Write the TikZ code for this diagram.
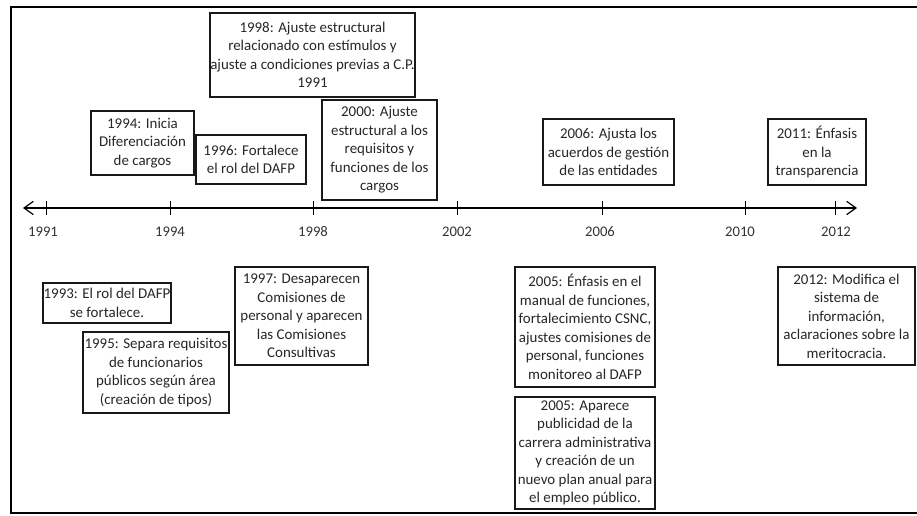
\documentclass[tikz,border=0pt]{standalone}
\usepackage{fontspec}
\setmainfont{Carlito}
\usetikzlibrary{arrows.meta}
\newcommand{\hito}[3]{\draw (#1,201) --++ (0,14); \node[anio] (a#2) at (#1+#3,232) {#2};}
\newcommand{\caja}[6]{\node[evento, minimum width={#4*0.75pt}, minimum height={#5*0.75pt}] (#1) at (#2,#3) {#6};}

\begin{document}
\begin{tikzpicture}[x=0.75pt,y=-0.75pt,
	evento/.style={draw=black!90, line width=1.2pt, align=center, inner sep=0pt, text=black!85, font=\fontsize{11.2}{13.9}\selectfont},
	anio/.style={text=black!80, font=\fontsize{11}{13}\selectfont}]
	\useasboundingbox (0,0) rectangle (917,516);
	\draw[line width=1.5pt] (917,7) -- (11,7) -- (11,513) -- (917,513);
	% eje
	\coordinate (izq) at (23,208);
	\coordinate (der) at (857,208);
	\draw[line width=0.9pt, {Straight Barb[length=7pt,width=10pt]}-{Straight Barb[length=7pt,width=10pt]}] (izq) -- (der);
	\hito{46}{1991}{-3}
	\hito{170}{1994}{0}
	\hito{313}{1998}{0}
	\hito{457}{2002}{0}
	\hito{602}{2006}{-2}
	\hito{745}{2010}{-5}
	\hito{835}{2012}{1}
	% arriba
	\caja{c1998}{312.5}{55}{205}{84}{1998: Ajuste estructural\\ relacionado con estímulos y\\ ajuste a condiciones previas a C.P.\\ 1991}
	\caja{c1994}{142.5}{143}{103}{64}{1994: Inicia\\ Diferenciación\\ de cargos}
	\caja{c1996}{251}{159.5}{110}{49}{1996: Fortalece\\ el rol del DAFP}
	\caja{c2000}{379.5}{150}{115}{100}{2000: Ajuste\\ estructural a los\\ requisitos y\\ funciones de los\\ cargos}
	\caja{c2006}{608.5}{152}{131}{66}{2006: Ajusta los\\ acuerdos de gestión\\ de las entidades}
	\caja{c2011}{817}{152}{98}{66}{2011: Énfasis\\ en la\\ transparencia}
	% abajo
	\caja{c1993}{107}{303}{128}{40}{1993: El rol del DAFP\\ se fortalece.}
	\caja{c1995}{156}{372.5}{146}{81}{1995: Separa requisitos\\ de funcionarios\\ públicos según área\\ (creación de tipos)}
	\caja{c1997}{301.5}{316}{133}{98}{1997: Desaparecen\\ Comisiones de\\ personal y aparecen\\ las Comisiones\\ Consultivas}
	\caja{c2005a}{585}{327}{140}{120}{2005: Énfasis en el\\ manual de funciones,\\ fortalecimiento CSNC,\\ ajustes comisiones de\\ personal, funciones\\ monitoreo al DAFP}
	\caja{c2005b}{585}{453}{140}{112}{2005: Aparece\\ publicidad de la\\ carrera administrativa\\ y creación de un\\ nuevo plan anual para\\ el empleo público.}
	\caja{c2012}{846.5}{316}{137}{98}{2012: Modifica el\\ sistema de\\ información,\\ aclaraciones sobre la\\ meritocracia.}
\end{tikzpicture}
\end{document}
